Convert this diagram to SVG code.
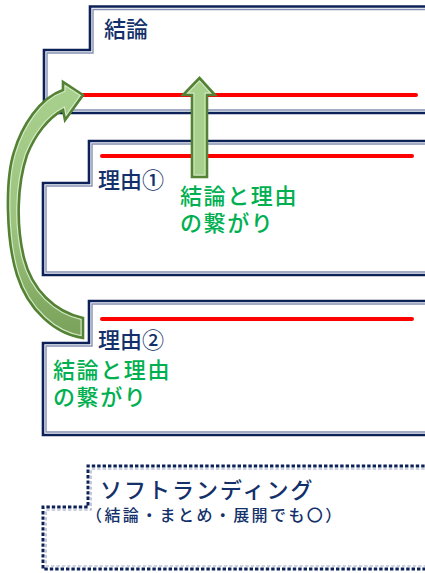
<svg xmlns="http://www.w3.org/2000/svg" xmlns:xlink="http://www.w3.org/1999/xlink" width="425" height="573" viewBox="0 0 425 573">
<style>
.outer{fill:none;stroke:#0c2157;stroke-width:2.6;stroke-linejoin:miter}
.inner{fill:none;stroke:#8491b2;stroke-width:1.4}
.router{fill:none;stroke:#0c2157;stroke-width:3;stroke-dasharray:3.4 2}
.rinner{fill:none;stroke:#9aa5c2;stroke-width:1.2;stroke-dasharray:3.4 2}
.red{stroke:#ff0000;stroke-width:4;stroke-linecap:round}
.lbl{font-family:"Noto Sans CJK JP","Noto Sans",sans-serif;fill:#13306a;font-size:22px;font-weight:500}
.sub{font-family:"Noto Sans CJK JP","Noto Sans",sans-serif;fill:#13306a;font-size:16px;font-weight:500}
.grn{font-family:"Noto Sans CJK JP","Noto Sans",sans-serif;fill:#00b050;font-size:22px;font-weight:500}
.arrowEdge{fill:none;stroke:#548235;stroke-width:2.6;stroke-linejoin:miter}
.arrowHi{fill:none;stroke:#d3e8c3;stroke-width:5}
</style>
<defs>
<linearGradient id="gC" gradientUnits="userSpaceOnUse" x1="0" y1="80" x2="0" y2="340">
<stop offset="0" stop-color="#a9d18e"/>
<stop offset="0.55" stop-color="#9cc47f"/>
<stop offset="1" stop-color="#78a058"/>
</linearGradient>
<path id="curvePath" d="M83,338 C55,334 28,310 17,275 C6,240 5,180 14,152 C22,125 40,98 63,90 L63,82 L83,95 L65,120 L63,110 C48,118 35,135 27,155 C17,185 16,225 24,258 C32,290 55,312 83,318 Z"/>
<path id="upPath" d="M192,177 L207,177 L207,95 L215,95 L199.5,78 L183,95 L192,95 Z"/>
<clipPath id="clipCurve"><use xlink:href="#curvePath"/></clipPath>
<clipPath id="clipUp"><use xlink:href="#upPath"/></clipPath>
</defs>

<g id="node-conclusion">
<path class="outer" d="M430,6.5 L90,6.5 L90,50 L44,50 L44,113 L430,113"/>
<path class="inner" d="M430,9.5 L93,9.5 L93,53 L47,53 L47,110 L430,110"/>
<line class="red" x1="83" y1="95" x2="416" y2="95"/>
<text class="lbl" x="104" y="37">結論</text>
</g>

<g id="node-reason1">
<path class="outer" d="M430,141 L89,141 L89,183 L43,183 L43,275 L430,275"/>
<path class="inner" d="M430,144 L92,144 L92,186 L46,186 L46,272 L430,272"/>
<line class="red" x1="102" y1="156" x2="412" y2="156"/>
<text class="lbl" x="98" y="188">理由①</text>
</g>

<g id="node-reason2">
<path class="outer" d="M430,301 L89,301 L89,343 L43,343 L43,435 L430,435"/>
<path class="inner" d="M430,304 L92,304 L92,346 L46,346 L46,432 L430,432"/>
<line class="red" x1="102" y1="319" x2="412" y2="319"/>
<text class="lbl" x="98" y="348">理由②</text>
<text class="grn" letter-spacing="1.6"><tspan x="53" y="378">結論と理由</tspan><tspan x="53" y="405">の繋がり</tspan></text>
</g>

<g id="node-soft-landing">
<path class="router" d="M430,466 L88,466 L88,507 L43,507 L43,569 L430,569"/>
<path class="rinner" d="M430,469 L91,469 L91,510 L46,510 L46,566 L430,566"/>
<text class="lbl" x="100" y="498" letter-spacing="2">ソフトランディング</text>
<text class="sub" x="86" y="521" letter-spacing="2.4">（結論・まとめ・展開でも〇）</text>
</g>

<g id="connectors">
<g id="arrow-up">
<use xlink:href="#upPath" fill="#a9d18e"/>
<use xlink:href="#upPath" class="arrowHi" clip-path="url(#clipUp)"/>
<use xlink:href="#upPath" class="arrowEdge"/>
</g>
<text class="grn" letter-spacing="1.6"><tspan x="180" y="204">結論と理由</tspan><tspan x="180" y="231">の繋がり</tspan></text>
<g id="arrow-curve">
<use xlink:href="#curvePath" fill="url(#gC)"/>
<use xlink:href="#curvePath" class="arrowHi" clip-path="url(#clipCurve)"/>
<use xlink:href="#curvePath" class="arrowEdge"/>
</g>
</g>
</svg>
